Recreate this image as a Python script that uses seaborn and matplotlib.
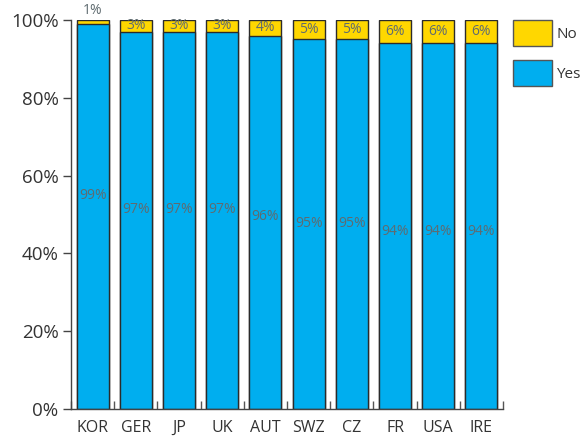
import matplotlib
matplotlib.use("Agg")
import matplotlib.pyplot as plt
import seaborn as sns
import numpy as np
from matplotlib.patches import Patch
from matplotlib.ticker import FixedLocator

countries = ["KOR", "GER", "JP", "UK", "AUT", "SWZ", "CZ", "FR", "USA", "IRE"]
yes_vals = [99, 97, 97, 97, 96, 95, 95, 94, 94, 94]
no_vals = [1, 3, 3, 3, 4, 5, 5, 6, 6, 6]
y_ticks = [0, 20, 40, 60, 80, 100]

BLUE = "#00AEEF"
YELLOW = "#FFD700"
EDGE = "#2b2b2b"
LABEL_GREY = "#5f6b70"
TEXT = "#333333"

sns.set_theme(style="white")
plt.rcParams["font.family"] = ["Open Sans", "DejaVu Sans"]

fig = plt.figure(figsize=(5.8, 4.36), dpi=100)
ax = fig.add_axes([71/580, 1-409/436, (503-71)/580, (409-20)/436])

totals = [y + n for y, n in zip(yes_vals, no_vals)]
sns.barplot(x=countries, y=totals, color=YELLOW, saturation=1, width=0.74,
            edgecolor=EDGE, linewidth=1.0, ax=ax)
sns.barplot(x=countries, y=yes_vals, color=BLUE, saturation=1, width=0.74,
            edgecolor=EDGE, linewidth=1.0, ax=ax)

ax.set_xlim(-0.5, len(countries) - 0.5)
ax.set_ylim(0, 100)
ax.set_yticks(y_ticks)
ax.set_yticklabels([f"{t}%" for t in y_ticks])
ax.set_xlabel("")
ax.set_ylabel("")

for s in ["top", "right"]:
    ax.spines[s].set_visible(False)
for s in ["left", "bottom"]:
    ax.spines[s].set_color("#444444")
    ax.spines[s].set_linewidth(1.0)

ax.tick_params(axis="y", which="major", direction="out", length=6, width=1,
               color="#444444", labelsize=13.5, labelcolor=TEXT, pad=3, left=True)
ax.tick_params(axis="x", which="major", length=0, labelsize=11.5, labelcolor=TEXT, pad=8)
ax.xaxis.set_minor_locator(FixedLocator(np.arange(-0.5, len(countries), 1.0)))
ax.tick_params(axis="x", which="minor", direction="in", length=6, width=1,
               color="#555555", bottom=True)

for i, (yv, nv) in enumerate(zip(yes_vals, no_vals)):
    ly = 45.7 + 1.86 * (yv - 94)
    ax.text(i, ly, f"{yv}%", ha="center", va="center", fontsize=10,
            color=LABEL_GREY)
    if nv < 2:
        ax.text(i, yv + nv + 0.6, f"{nv}%", ha="center", va="bottom",
                fontsize=10, color=LABEL_GREY, clip_on=False)
    else:
        ax.text(i, yv + nv / 2, f"{nv}%", ha="center", va="center",
                fontsize=10, color=LABEL_GREY)

handles = [Patch(facecolor=YELLOW, edgecolor="#555555", label="No"),
           Patch(facecolor=BLUE, edgecolor="#555555", label="Yes")]
ax.legend(handles=handles, loc="upper left", bbox_to_anchor=(1.023, 1.0),
          frameon=False, fontsize=11, handlelength=2.55, handleheight=2.24,
          labelspacing=0.92, handletextpad=0.3, borderaxespad=0, borderpad=0,
          labelcolor=TEXT)

fig.savefig("out.png", dpi=100)
